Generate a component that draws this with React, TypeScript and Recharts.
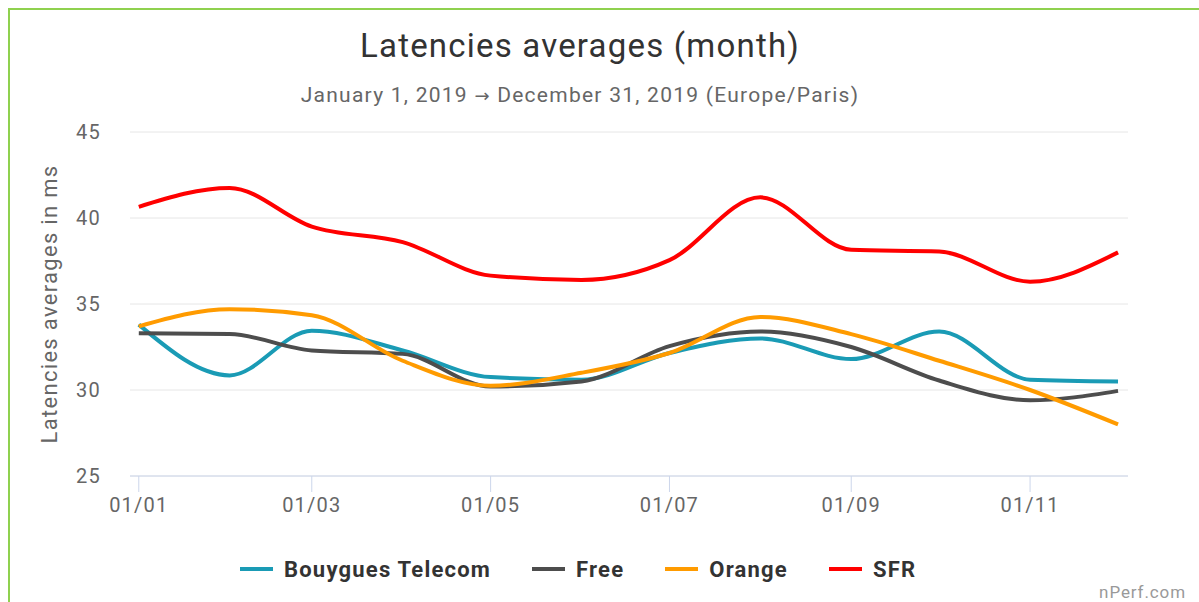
import React from "react";
import { LineChart, Line, XAxis, YAxis, CartesianGrid } from "recharts";

// monthly averages, 2019 (one value per month start)
const months = [
  "2019-01-01", "2019-02-01", "2019-03-01", "2019-04-01", "2019-05-01", "2019-06-01",
  "2019-07-01", "2019-08-01", "2019-09-01", "2019-10-01", "2019-11-01", "2019-12-01",
];
const bouygues = [33.8, 30.85, 33.45, 32.3, 30.75, 30.6, 32.15, 33.0, 31.8, 33.4, 30.6, 30.5];
const free = [33.3, 33.25, 32.3, 32.1, 30.2, 30.5, 32.55, 33.4, 32.5, 30.55, 29.4, 29.95];
const orange = [33.7, 34.7, 34.35, 31.7, 30.25, 31.0, 32.15, 34.25, 33.25, 31.7, 30.0, 28.0];
const sfr = [40.65, 41.75, 39.5, 38.6, 36.65, 36.4, 37.55, 41.2, 38.15, 38.05, 36.3, 38.0];

const tickDates = ["2019-01-01", "2019-03-01", "2019-05-01", "2019-07-01", "2019-09-01", "2019-11-01"];
const yTicks = [25, 30, 35, 40, 45];

const series = [
  { key: "bouygues", name: "Bouygues Telecom", color: "#1a9bb5", values: bouygues },
  { key: "free", name: "Free", color: "#4d4d4d", values: free },
  { key: "orange", name: "Orange", color: "#ff9b00", values: orange },
  { key: "sfr", name: "SFR", color: "#ff0000", values: sfr },
];

const DAY = 86400000;
const dayOfYear = (iso: string) => (Date.parse(iso) - Date.parse("2019-01-01")) / DAY;
const fmtTick = (d: number) => {
  const dt = new Date(Date.parse("2019-01-01") + d * DAY);
  const dd = String(dt.getUTCDate()).padStart(2, "0");
  const mm = String(dt.getUTCMonth() + 1).padStart(2, "0");
  return `${dd}/${mm}`;
};

const data = months.map((m, i) => {
  const row: any = { day: dayOfYear(m) };
  series.forEach((s) => (row[s.key] = s.values[i]));
  return row;
});

const FONT = "Roboto, 'Noto Sans', sans-serif";
const tickStyle = { fill: "#666", fontSize: 20, fontFamily: FONT, letterSpacing: 1.2 };

const YLabel = ({ viewBox }: any) => {
  const cy = viewBox.y + viewBox.height / 2;
  return (
    <text
      x={49}
      y={cy}
      transform={`rotate(-90, 49, ${cy})`}
      textAnchor="middle"
      dominantBaseline="central"
      fill="#666"
      fontSize={22}
      fontFamily={FONT}
      style={{ letterSpacing: 1.3 }}
    >
      Latencies averages in ms
    </text>
  );
};

export default function App() {
  return (
    <div
      style={{
        position: "fixed",
        left: 0,
        top: 0,
        width: 1199,
        height: 602,
        overflow: "hidden",
        background: "#fff",
        fontFamily: FONT,
      }}
    >
      <div
        style={{
          position: "absolute",
          left: 8,
          top: 8,
          width: 1191,
          height: 594,
          boxSizing: "border-box",
          borderTop: "2px solid #8fd14f",
          borderLeft: "2px solid #8fd14f",
        }}
      />
      <div
        style={{
          position: "absolute",
          left: 0,
          top: 28,
          width: 1160,
          textAlign: "center",
          fontSize: 33,
          letterSpacing: 1.2,
          lineHeight: "36px",
          color: "#333",
        }}
      >
        Latencies averages (month)
      </div>
      <div
        style={{
          position: "absolute",
          left: 0,
          top: 83,
          width: 1160,
          textAlign: "center",
          fontSize: 21,
          letterSpacing: 1.25,
          lineHeight: "24px",
          color: "#666",
        }}
      >
        January 1, 2019 <span style={{ fontFamily: "'DejaVu Sans'", fontSize: 18 }}>→</span> December 31, 2019 (Europe/Paris)
      </div>

      <div style={{ position: "absolute", left: 0, top: 0 }}>
        <LineChart
          width={1199}
          height={602}
          data={data}
          margin={{ top: 132, right: 71, bottom: 86, left: 30 }}
        >
          <CartesianGrid vertical={false} stroke="#e6e6e6" />
          <XAxis
            dataKey="day"
            type="number"
            domain={[-3, 337.4]}
            ticks={tickDates.map(dayOfYear)}
            tickFormatter={fmtTick}
            height={40}
            stroke="#ccd6eb"
            tickSize={16}
            tickMargin={6}
            tick={tickStyle}
            allowDataOverflow
          />
          <YAxis
            type="number"
            domain={[25, 45]}
            ticks={yTicks}
            width={100}
            axisLine={false}
            tickLine={false}
            tickSize={0}
            tickMargin={29}
            tick={tickStyle}
            label={<YLabel />}
          />
          {series.map((s) => (
            <Line
              key={s.key}
              dataKey={s.key}
              name={s.name}
              type="monotone"
              stroke={s.color}
              strokeWidth={4}
              dot={false}
              activeDot={false}
              isAnimationActive={false}
            />
          ))}
        </LineChart>
      </div>

      <div
        style={{
          position: "absolute",
          left: 240,
          top: 557,
          display: "flex",
          alignItems: "center",
          height: 24,
        }}
      >
        {series.map((s, i) => (
          <div
            key={s.key}
            style={{
              display: "flex",
              alignItems: "center",
              marginLeft: i === 0 ? 0 : 41,
            }}
          >
            <div style={{ width: 33, height: 4, background: s.color, marginRight: 11 }} />
            <span style={{ fontSize: 22, fontWeight: 700, letterSpacing: 1.2, color: "#333" }}>
              {s.name}
            </span>
          </div>
        ))}
      </div>

      <div
        style={{
          position: "absolute",
          right: 13,
          top: 582,
          fontSize: 17,
          letterSpacing: 0.9,
          lineHeight: "20px",
          color: "#999",
        }}
      >
        nPerf.com
      </div>
    </div>
  );
}
